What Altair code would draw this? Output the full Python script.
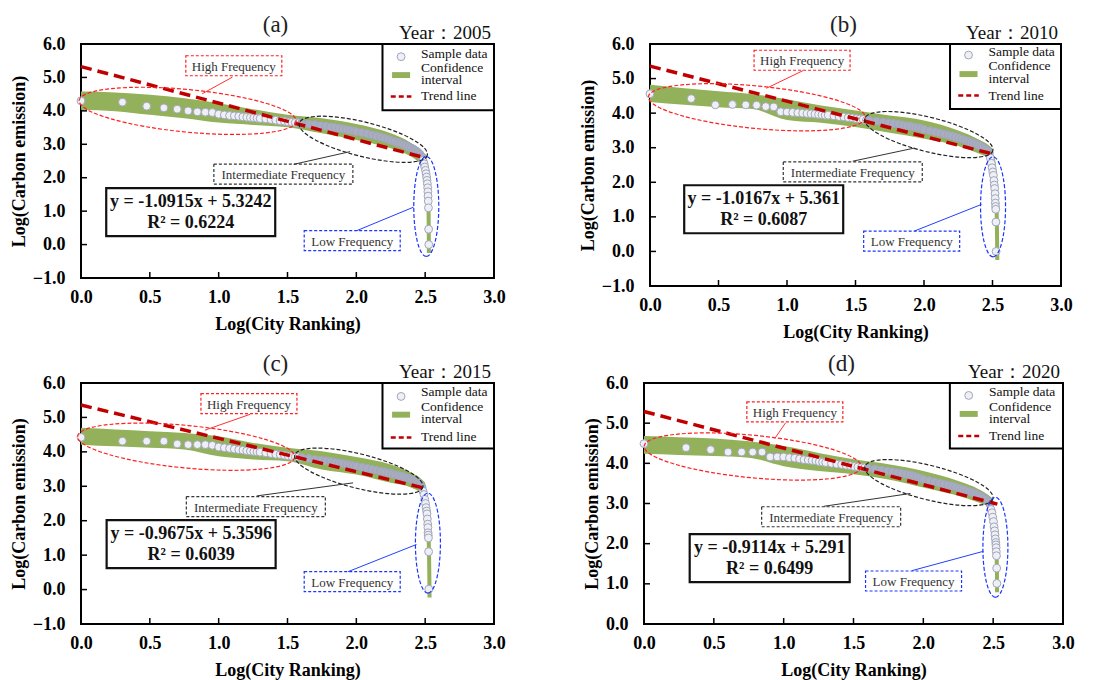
import altair as alt
import numpy as np
import pandas as pd

FONT = "Liberation Serif"

PANEL_LABELS = ["(a)", "(b)", "(c)", "(d)"]
YEAR_LABELS = ["Year：2005", "Year：2010", "Year：2015", "Year：2020"]
EQUATIONS = ["y = -1.0915x + 5.3242", "y = -1.0167x + 5.361",
             "y = -0.9675x + 5.3596", "y = -0.9114x + 5.291"]
R2_TEXT = ["R² = 0.6224", "R² = 0.6087", "R² = 0.6039", "R² = 0.6499"]
TREND_SLOPE = [-1.0915, -1.0167, -0.9675, -0.9114]
TREND_INTERCEPT = [5.3242, 5.361, 5.3596, 5.291]
TREND_X_END = [2.5, 2.5, 2.5, 2.53]
Y_DOMAINS = [[-1, 6], [-1, 6], [-1, 6], [0, 6]]
X_TICKS = [0.0, 0.5, 1.0, 1.5, 2.0, 2.5, 3.0]

# city ranks (x = log10(rank))
RANKS = (list(range(1, 21)) + list(range(22, 41, 2)) + list(range(45, 101, 5))
         + list(range(110, 301, 10))
         + [305, 310, 314, 318, 321, 324, 326, 328, 330, 331, 332, 333, 334, 335, 336])

Y_2005 = [4.30, 4.26, 4.14, 4.09, 4.05, 4.00, 3.97, 3.96, 3.95, 3.90,
          3.88, 3.86, 3.85, 3.84, 3.82, 3.81, 3.80, 3.79, 3.78, 3.77,
          3.76, 3.74, 3.72, 3.70, 3.69, 3.67, 3.66, 3.65, 3.64, 3.63,
          3.61, 3.59, 3.56, 3.54, 3.52, 3.50, 3.48, 3.46, 3.44, 3.42, 3.40, 3.38,
          3.35, 3.32, 3.28, 3.25, 3.22, 3.18, 3.15, 3.11, 3.08, 3.05,
          3.02, 2.99, 2.96, 2.92, 2.89, 2.85, 2.81, 2.76, 2.70, 2.62,
          2.52, 2.42, 2.32, 2.22, 2.12, 2.02, 1.92, 1.82, 1.70, 1.58, 1.45, 1.30, 1.10, 0.46, 0.00]
Y_2010 = [4.56, 4.42, 4.24, 4.25, 4.24, 4.23, 4.19, 4.18, 4.04, 4.03,
          4.02, 4.01, 4.00, 3.99, 3.98, 3.97, 3.96, 3.95, 3.94, 3.94,
          3.92, 3.90, 3.89, 3.87, 3.86, 3.84, 3.83, 3.82, 3.80, 3.79,
          3.77, 3.74, 3.72, 3.70, 3.68, 3.66, 3.64, 3.62, 3.60, 3.58, 3.56, 3.53,
          3.49, 3.46, 3.43, 3.40, 3.37, 3.34, 3.31, 3.28, 3.25, 3.22,
          3.19, 3.16, 3.13, 3.10, 3.07, 3.04, 3.00, 2.96, 2.91, 2.84,
          2.70, 2.55, 2.42, 2.30, 2.20, 2.05, 1.92, 1.82, 1.67, 1.53, 1.40, 1.30, 1.22, 0.85, 0.00]
Y_2015 = [4.42, 4.31, 4.31, 4.31, 4.23, 4.21, 4.21, 4.21, 4.19, 4.14,
          4.12, 4.10, 4.08, 4.06, 4.05, 4.03, 4.02, 4.01, 4.00, 3.99,
          3.97, 3.95, 3.93, 3.92, 3.90, 3.88, 3.87, 3.86, 3.85, 3.84,
          3.81, 3.78, 3.76, 3.74, 3.72, 3.70, 3.68, 3.66, 3.64, 3.62, 3.60, 3.58,
          3.55, 3.52, 3.49, 3.47, 3.44, 3.42, 3.39, 3.37, 3.34, 3.32,
          3.30, 3.28, 3.25, 3.23, 3.20, 3.17, 3.14, 3.10, 3.05, 2.97,
          2.86, 2.76, 2.62, 2.50, 2.38, 2.28, 2.20, 2.05, 1.90, 1.80, 1.65, 1.58, 1.50, 1.10, 0.01]
Y_2020 = [4.49, 4.39, 4.34, 4.28, 4.28, 4.28, 4.28, 4.16, 4.16, 4.16,
          4.14, 4.13, 4.11, 4.09, 4.08, 4.07, 4.06, 4.04, 4.03, 4.02,
          4.00, 3.98, 3.97, 3.95, 3.94, 3.92, 3.91, 3.90, 3.89, 3.88,
          3.86, 3.83, 3.81, 3.79, 3.77, 3.75, 3.73, 3.71, 3.69, 3.66, 3.63, 3.60,
          3.57, 3.54, 3.51, 3.48, 3.46, 3.44, 3.41, 3.38, 3.35, 3.33,
          3.31, 3.28, 3.26, 3.23, 3.20, 3.17, 3.14, 3.10, 3.05, 2.98,
          2.85, 2.77, 2.66, 2.55, 2.42, 2.32, 2.22, 2.12, 2.03, 1.97, 1.90, 1.80, 1.70, 1.39, 1.01]

# confidence interval band
CI_X = [0.0, 0.25, 0.5, 0.75, 1.0, 1.25, 1.5, 1.75, 2.0, 2.25, 2.4, 2.47, 2.5]
CI_HI_2005 = [4.58, 4.55, 4.48, 4.38, 4.23, 4.05, 3.88, 3.78, 3.61, 3.33, 3.03, 2.78, 2.55]
CI_LO_2005 = [4.03, 3.99, 3.88, 3.78, 3.65, 3.58, 3.51, 3.33, 3.13, 2.88, 2.63, 2.43, 2.35]
CI_HI_2010 = [4.82, 4.72, 4.63, 4.55, 4.40, 4.22, 4.08, 3.93, 3.79, 3.50, 3.24, 3.08, 2.97]
CI_LO_2010 = [4.32, 4.24, 4.17, 4.12, 3.80, 3.72, 3.60, 3.43, 3.26, 3.05, 2.83, 2.72, 2.68]
CI_HI_2015 = [4.70, 4.65, 4.60, 4.55, 4.45, 4.26, 4.12, 4.02, 3.85, 3.63, 3.39, 3.22, 3.10]
CI_LO_2015 = [4.21, 4.16, 4.12, 4.07, 3.87, 3.78, 3.73, 3.49, 3.34, 3.10, 2.96, 2.80, 2.66]
CI_HI_2020 = [4.68, 4.65, 4.62, 4.55, 4.43, 4.26, 4.10, 3.98, 3.81, 3.56, 3.35, 3.20, 3.11]
CI_LO_2020 = [4.24, 4.21, 4.18, 4.14, 3.93, 3.81, 3.73, 3.60, 3.40, 3.19, 3.02, 2.92, 2.86]
# confidence interval tail (thin vertical part)
TAIL_X_2005 = [2.49, 2.51, 2.522, 2.526, 2.527]
TAIL_Y_2005 = [2.55, 2.20, 1.50, 0.50, -0.25]
TAIL_X_2010 = [2.50, 2.515, 2.528, 2.533, 2.535]
TAIL_Y_2010 = [2.75, 2.30, 1.50, 0.50, -0.25]
TAIL_X_2015 = [2.49, 2.51, 2.525, 2.530, 2.532]
TAIL_Y_2015 = [2.75, 2.30, 1.50, 0.50, -0.23]
TAIL_X_2020 = [2.49, 2.51, 2.522, 2.527, 2.528]
TAIL_Y_2020 = [2.90, 2.50, 2.00, 1.30, 0.79]

# annotation anchors (data coordinates)
HIGH_BOX_X = [1.11, 1.11, 1.22, 1.08]
HIGH_BOX_Y = [5.35, 5.53, 5.40, 5.28]
MID_BOX_X = [1.47, 1.48, 1.27, 1.34]
MID_BOX_Y = [2.11, 2.30, 2.41, 2.67]
LOW_BOX_X = [1.97, 1.91, 1.97, 1.93]
LOW_BOX_Y = [0.12, 0.30, 0.23, 1.07]
HIGH_LINE = [(1.10, 5.01, 0.88, 4.51), (1.117, 5.23, 0.85, 4.72),
             (1.228, 5.09, 0.90, 4.63), (1.014, 5.01, 0.937, 4.62)]
MID_LINE = [(1.545, 2.40, 1.955, 2.78), (1.48, 2.61, 1.93, 2.99),
            (1.276, 2.72, 1.977, 3.10), (1.288, 2.93, 1.908, 3.25)]
LOW_LINE = [(2.005, 0.42, 2.416, 1.12), (1.93, 0.59, 2.42, 1.36),
            (1.94, 0.52, 2.437, 1.31), (1.92, 1.33, 2.43, 1.81)]
RED_ELL_X = [0.775, 0.78, 0.764, 0.778]
RED_ELL_Y = [4.00, 4.17, 4.15, 4.17]
BLACK_ELL_X = [2.05, 2.035, 2.018, 2.04]
BLACK_ELL_Y = [3.15, 3.38, 3.44, 3.52]
BLUE_ELL_X = [2.508, 2.504, 2.52, 2.516]
BLUE_ELL_Y = [1.14, 1.29, 1.35, 1.91]
EQ_X = [0.797, 0.83, 0.80, 0.90]
EQ_Y = [0.97, 1.22, 1.32, 1.64]
EQ_BOX_W = [169, 159, 169, 160]

# legend rows (data coordinates)
LEG_CIRCLE_Y = [5.62, 5.68, 5.61, 5.69]
LEG_SAMPLE_Y = [5.70, 5.76, 5.73, 5.77]
LEG_CONF_Y = [5.28, 5.36, 5.30, 5.41]
LEG_INTERVAL_Y = [4.92, 4.99, 4.94, 5.11]
LEG_GREEN_Y = [5.07, 5.13, 5.08, 5.23]
LEG_TREND_Y = [4.43, 4.51, 4.42, 4.68]
LEG_BOTTOM = [4.02, 4.12, 4.10, 4.37]

WIDTHS = [413, 411, 413, 419]
HEIGHTS = [234, 242, 241, 241]

GREEN = "#93b05a"
POINT_FILL = "#eef0f6"
POINT_STROKE = "#a2a6bb"
DENSE = "#a9adc1"
TREND_RED = "#c00000"


def ellipse_path(r):
    k = 0.5523
    return (f"M1,0 C1,{k*r:.4f} {k:.4f},{r:.4f} 0,{r:.4f} "
            f"C{-k:.4f},{r:.4f} -1,{k*r:.4f} -1,0 "
            f"C-1,{-k*r:.4f} {-k:.4f},{-r:.4f} 0,{-r:.4f} "
            f"C{k:.4f},{-r:.4f} 1,{-k*r:.4f} 1,0 Z")


def rect_path(r):
    return f"M-1,{-r:.4f} L1,{-r:.4f} L1,{r:.4f} L-1,{r:.4f} Z"


def make_panel(i, ys, ci_lo, ci_hi, tail_x, tail_y):
    dom = Y_DOMAINS[i]
    xs = alt.Scale(domain=[0, 3], nice=False, zero=False)
    ysc = alt.Scale(domain=dom, nice=False, zero=False)
    xaxis = alt.Axis(values=X_TICKS, format=".1f", title="Log(City Ranking)",
                     labelPadding=10, titlePadding=9, labelFlush=False, labelOverlap=False,
                     labelFont=FONT, titleFont=FONT)
    yaxis = alt.Axis(values=list(range(dom[0], dom[1] + 1)), format=".1f",
                     title="Log(Carbon emission)", labelPadding=16, titlePadding=4,
                     labelFlush=False, labelOverlap=False, labelFont=FONT, titleFont=FONT)

    def X(f):
        return alt.X(f"{f}:Q", scale=xs, axis=xaxis)

    def Y(f):
        return alt.Y(f"{f}:Q", scale=ysc, axis=yaxis)

    layers = []
    band = pd.DataFrame({"x": CI_X, "lo": ci_lo, "hi": ci_hi})
    layers.append(alt.Chart(band).mark_area(color=GREEN, opacity=1, interpolate="monotone")
                  .encode(x=X("x"), y=Y("lo"), y2="hi:Q"))
    tail = pd.DataFrame({"x": tail_x, "y": tail_y, "o": list(range(len(tail_x)))})
    layers.append(alt.Chart(tail).mark_line(color=GREEN, strokeWidth=4, interpolate="monotone")
                  .encode(x=X("x"), y=Y("y"), order="o:Q"))

    pts = pd.DataFrame({"x": np.log10(RANKS), "y": ys, "rank": RANKS})
    layers.append(alt.Chart(pts).mark_circle(size=62, stroke=POINT_STROKE, strokeWidth=1, opacity=1)
                  .encode(x=X("x"), y=Y("y"),
                          fill=alt.condition("datum.rank >= 40 && datum.rank <= 300",
                                             alt.value(DENSE), alt.value(POINT_FILL))))

    xe = TREND_X_END[i]
    trend = pd.DataFrame({"x": [0.0, xe],
                          "y": [TREND_INTERCEPT[i], TREND_INTERCEPT[i] + TREND_SLOPE[i] * xe]})
    layers.append(alt.Chart(trend).mark_line(color=TREND_RED, strokeWidth=3.5, strokeDash=[11, 6])
                  .encode(x=X("x"), y=Y("y")))

    # ellipses
    for ex, ey, col, a, r, ang in [
        (RED_ELL_X[i], RED_ELL_Y[i], "#ff2020", 109, 0.195, 5.5),
        (BLACK_ELL_X[i], BLACK_ELL_Y[i], "#222222", 66, 0.26, 14),
        (BLUE_ELL_X[i], BLUE_ELL_Y[i], "#1a35ff", 50, 0.25, 90),
    ]:
        d = pd.DataFrame({"x": [ex], "y": [ey]})
        layers.append(alt.Chart(d).mark_point(shape=ellipse_path(r), size=(2 * a) ** 2, angle=ang,
                                              filled=False, color=col, strokeWidth=1.2,
                                              strokeDash=[4, 2], opacity=1)
                      .encode(x=X("x"), y=Y("y")))

    # leader lines
    lines = pd.DataFrame({
        "x": [HIGH_LINE[i][0], MID_LINE[i][0], LOW_LINE[i][0]],
        "y": [HIGH_LINE[i][1], MID_LINE[i][1], LOW_LINE[i][1]],
        "x2": [HIGH_LINE[i][2], MID_LINE[i][2], LOW_LINE[i][2]],
        "y2": [HIGH_LINE[i][3], MID_LINE[i][3], LOW_LINE[i][3]],
        "k": ["high", "mid", "low"]})
    layers.append(alt.Chart(lines).mark_rule(strokeWidth=1)
                  .encode(x=X("x"), y=Y("y"), x2="x2:Q", y2="y2:Q",
                          color=alt.Color("k:N", scale=alt.Scale(domain=["high", "mid", "low"],
                                                                 range=["#ff3030", "#333333", "#2040ff"]),
                                          legend=None)))

    # dashed label boxes
    for bx, by, col, w, txt in [
        (HIGH_BOX_X[i], HIGH_BOX_Y[i], "#ff2020", 96, "High Frequency"),
        (MID_BOX_X[i], MID_BOX_Y[i], "#333333", 139, "Intermediate Frequency"),
        (LOW_BOX_X[i], LOW_BOX_Y[i], "#1a35ff", 96, "Low Frequency"),
    ]:
        d = pd.DataFrame({"x": [bx], "y": [by], "t": [txt]})
        layers.append(alt.Chart(d).mark_point(shape=rect_path(20 / w), size=w * w, filled=False,
                                              color=col, strokeWidth=1.2, strokeDash=[3, 2], opacity=1)
                      .encode(x=X("x"), y=Y("y")))
        layers.append(alt.Chart(d).mark_text(font=FONT, fontSize=13, color="#333333",
                                             align="center", baseline="middle", dy=1)
                      .encode(x=X("x"), y=Y("y"), text="t:N"))

    # equation box
    eq = pd.DataFrame({"x": [EQ_X[i]], "y": [EQ_Y[i]], "t": [EQUATIONS[i] + "\n" + R2_TEXT[i]]})
    w = EQ_BOX_W[i]
    layers.append(alt.Chart(eq).mark_point(shape=rect_path(48 / w), size=w * w, filled=False,
                                           color="#111111", strokeWidth=2.2, opacity=1)
                  .encode(x=X("x"), y=Y("y")))
    layers.append(alt.Chart(eq).mark_text(font=FONT, fontSize=18, fontWeight="bold", color="#111111",
                                          align="center", baseline="middle", lineBreak="\n",
                                          lineHeight=21, dy=-10)
                  .encode(x=X("x"), y=Y("y"), text="t:N"))

    # legend
    lb = pd.DataFrame({"x": [2.19], "x2": [3.0], "y": [LEG_BOTTOM[i]], "y2": [dom[1]]})
    layers.append(alt.Chart(lb).mark_rect(fill="white", stroke="black", strokeWidth=2)
                  .encode(x=X("x"), x2="x2:Q", y=Y("y"), y2="y2:Q"))
    lc = pd.DataFrame({"x": [2.325], "y": [LEG_CIRCLE_Y[i]]})
    layers.append(alt.Chart(lc).mark_circle(size=62, fill=POINT_FILL, stroke=POINT_STROKE,
                                            strokeWidth=1, opacity=1)
                  .encode(x=X("x"), y=Y("y")))
    lg = pd.DataFrame({"x": [2.325], "y": [LEG_GREEN_Y[i]]})
    layers.append(alt.Chart(lg).mark_point(shape=rect_path(0.33), size=18 * 18, filled=True,
                                           color=GREEN, opacity=1)
                  .encode(x=X("x"), y=Y("y")))
    lt = pd.DataFrame({"x": [2.25], "x2": [2.40], "y": [LEG_TREND_Y[i]]})
    layers.append(alt.Chart(lt).mark_rule(color=TREND_RED, strokeWidth=2.5, strokeDash=[5, 3])
                  .encode(x=X("x"), x2="x2:Q", y=Y("y")))
    ltx = pd.DataFrame({"x": [2.47] * 4,
                        "y": [LEG_SAMPLE_Y[i], LEG_CONF_Y[i], LEG_INTERVAL_Y[i], LEG_TREND_Y[i]],
                        "t": ["Sample data", "Confidence", "interval", "Trend line"]})
    layers.append(alt.Chart(ltx).mark_text(font=FONT, fontSize=13.5, color="#111111",
                                           align="left", baseline="middle")
                  .encode(x=X("x"), y=Y("y"), text="t:N"))

    # year label and panel label
    hd = pd.DataFrame({"x": [3.0, 1.5], "y": [dom[1], dom[1]],
                       "t": [YEAR_LABELS[i], PANEL_LABELS[i]]})
    layers.append(alt.Chart(hd).transform_filter("datum.x > 2").mark_text(
        font=FONT, fontSize=19, color="#111111", align="right", baseline="alphabetic", dy=-5, dx=-3)
                  .encode(x=X("x"), y=Y("y"), text="t:N"))
    layers.append(alt.Chart(hd).transform_filter("datum.x < 2").mark_text(
        font=FONT, fontSize=23, color="#222222", align="center", baseline="bottom", dy=-7, dx=-12)
                  .encode(x=X("x"), y=Y("y"), text="t:N"))

    # inner ticks
    ytk = pd.DataFrame({"v": list(range(dom[0], dom[1] + 1))})
    layers.append(alt.Chart(ytk).mark_rule(color="black", strokeWidth=1.5)
                  .encode(y=Y("v"), x=alt.value(0), x2=alt.value(6)))
    xtk = pd.DataFrame({"v": X_TICKS})
    h = HEIGHTS[i]
    layers.append(alt.Chart(xtk).mark_rule(color="black", strokeWidth=1.5)
                  .encode(x=X("v"), y=alt.value(h), y2=alt.value(h - 6)))

    return alt.layer(*layers).properties(width=WIDTHS[i], height=HEIGHTS[i])


pa = make_panel(0, Y_2005, CI_LO_2005, CI_HI_2005, TAIL_X_2005, TAIL_Y_2005)
pb = make_panel(1, Y_2010, CI_LO_2010, CI_HI_2010, TAIL_X_2010, TAIL_Y_2010)
pc = make_panel(2, Y_2015, CI_LO_2015, CI_HI_2015, TAIL_X_2015, TAIL_Y_2015)
pd_ = make_panel(3, Y_2020, CI_LO_2020, CI_HI_2020, TAIL_X_2020, TAIL_Y_2020)

chart = alt.vconcat(
    alt.hconcat(pa, pb, spacing=71),
    alt.hconcat(pc, pd_, spacing=75),
    spacing=10,
).configure(
    font=FONT
).configure_view(
    stroke="black", strokeWidth=2
).configure_axis(
    labelFont=FONT, titleFont=FONT, labelFontSize=18, titleFontSize=18,
    labelFontWeight="bold", titleFontWeight="bold", labelColor="black", titleColor="black",
    grid=False, domain=False, ticks=False
).properties(
    background="white",
    padding={"left": 1, "top": 5, "right": 5, "bottom": 5}
)

chart.save("out.html", embed_options={"renderer": "svg", "actions": False})
